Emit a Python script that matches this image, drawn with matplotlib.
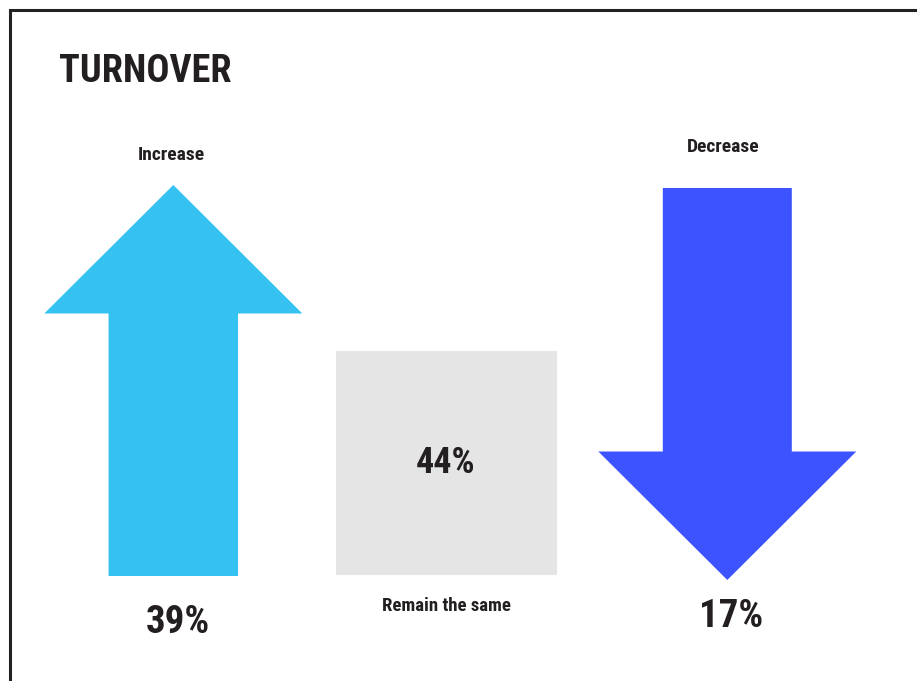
import matplotlib.pyplot as plt
import matplotlib.patches as mpatches

# survey answers
categories = ['Increase', 'Remain the same', 'Decrease']
shares = [39, 44, 17]
colors = ['#36c2f1', '#e5e5e5', '#3d53ff']

W, H = 917, 681
FONT = ['Roboto Condensed', 'Barlow Condensed', 'DejaVu Sans']
INK = '#231f20'


def up_arrow(cx, top, bottom, head_w, head_h, shaft_w):
    return [(cx, top), (cx + head_w / 2, top + head_h), (cx + shaft_w / 2, top + head_h),
            (cx + shaft_w / 2, bottom), (cx - shaft_w / 2, bottom),
            (cx - shaft_w / 2, top + head_h), (cx - head_w / 2, top + head_h)]


def down_arrow(cx, top, bottom, head_w, head_h, shaft_w):
    return [(cx, bottom), (cx + head_w / 2, bottom - head_h), (cx + shaft_w / 2, bottom - head_h),
            (cx + shaft_w / 2, top), (cx - shaft_w / 2, top),
            (cx - shaft_w / 2, bottom - head_h), (cx - head_w / 2, bottom - head_h)]


fig = plt.figure(figsize=(W / 100, H / 100), dpi=100)
ax = fig.add_axes([0, 0, 1, 1])
ax.set_xlim(0, W)
ax.set_ylim(H, 0)
ax.axis('off')

# frame
ax.plot([9.5, 9.5, W + 5], [H + 5, 9.5, 9.5], color='#222222', lw=2.2,
        solid_joinstyle='miter', clip_on=False)

ax.text(59, 82, 'TURNOVER', fontsize=27.5, fontweight='bold', color=INK,
        family=FONT, ha='left', va='baseline')

# increase
ax.add_patch(mpatches.Polygon(up_arrow(173.3, 185, 576, 258, 128.5, 129.5),
                              closed=True, facecolor=colors[0], edgecolor='none'))
ax.text(171, 160, categories[0], fontsize=14, fontweight='bold', color=INK,
        family=FONT, ha='center', va='baseline')
ax.text(178, 633, f'{shares[0]}%', fontsize=28, fontweight='bold', color=INK,
        family=FONT, ha='center', va='baseline')

# remain the same
ax.add_patch(mpatches.Rectangle((336, 351), 221, 224, facecolor=colors[1], edgecolor='none'))
ax.text(446, 473, f'{shares[1]}%', fontsize=26, fontweight='bold', color=INK,
        family=FONT, ha='center', va='baseline')
ax.text(446, 611, categories[1], fontsize=13.5, fontweight='bold', color=INK,
        family=FONT, ha='center', va='baseline')

# decrease
ax.add_patch(mpatches.Polygon(down_arrow(727.3, 188, 580, 258, 128.5, 129),
                              closed=True, facecolor=colors[2], edgecolor='none'))
ax.text(723, 152, categories[2], fontsize=14, fontweight='bold', color=INK,
        family=FONT, ha='center', va='baseline')
ax.text(731, 627, f'{shares[2]}%', fontsize=28, fontweight='bold', color=INK,
        family=FONT, ha='center', va='baseline')

fig.savefig('out.png', dpi=100)
